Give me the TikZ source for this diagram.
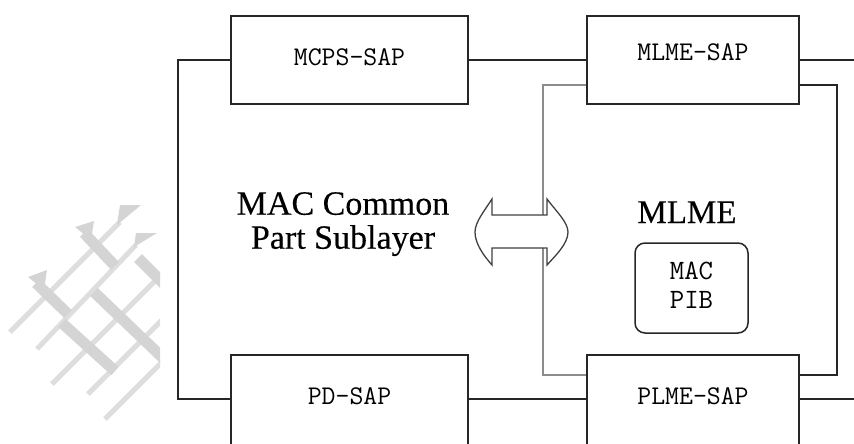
\documentclass[tikz,border=0pt]{standalone}
\usepackage{fontspec}
\setmainfont{Liberation Serif}
\newfontfamily\heavyserif{Liberation Serif}[FakeBold=0.25]
\begin{document}
\begin{tikzpicture}[x=1pt,y=-1pt,
  sap/.style={draw=black!85, line width=1.5pt, inner sep=0pt, minimum height=88pt},
  saptext/.style={font=\ttfamily\fontsize{27}{27}\selectfont},
  widebox/.style={sap, minimum width=237pt},
  narrowbox/.style={sap, minimum width=212pt},
  link/.style={draw=black!85, line width=1.5pt},
  glink/.style={draw=black!45, line width=1.2pt},
  bigtext/.style={font=\heavyserif\fontsize{34}{34}\selectfont, inner sep=0pt, align=center},
  wmthin/.style={draw=black!13, line width=5pt},
  wmthick/.style={draw=black!17, line width=11pt},
  wmflag/.style={fill=black!17, draw=none}]
\useasboundingbox (0,0) rectangle (854,444);

% faint lattice emblem on the left
\begin{scope}
  \clip (0,190) rectangle (160,444);
  \draw[wmthin] (10,332) -- (120,222);
  \draw[wmthin] (37,349) -- (136,245);
  \draw[wmthin] (52,384) -- (165,271);
  \draw[wmthin] (88,394) -- (165,317);
  \draw[wmthin] (105,419) -- (165,359);
  \draw[wmthick] (36,283) -- (68,314);
  \draw[wmthick] (84,233) -- (115,266);
  \draw[wmthick] (138,258) -- (165,285);
  \draw[wmthick] (62,323) -- (115,371);
  \draw[wmthick] (94,292) -- (165,360);
  \fill[wmflag] (117,225) -- (120,205) -- (141,205) -- cycle;
  \fill[wmflag] (134,247) -- (136,233) -- (157,233) -- cycle;
  \fill[wmflag] (28,277) -- (47,270) -- (44,290) -- cycle;
  \fill[wmflag] (75,227) -- (94,221) -- (91,240) -- cycle;
\end{scope}

% service access points
\node[widebox, label={[saptext, yshift=3pt, name=mcpsl]center:MCPS-SAP}] (mcps) at (349.5,60) {};
\node[narrowbox, label={[saptext, yshift=8pt, name=mlmel]center:MLME-SAP}] (mlme) at (693,60) {};
\node[widebox, minimum height=92pt, label={[saptext, yshift=5pt, name=pdl]center:PD-SAP}] (pd) at (349.5,401) {};
\node[narrowbox, minimum height=92pt, label={[saptext, yshift=5pt, name=plmel]center:PLME-SAP}] (plme) at (693,401) {};

% connection points
\coordinate (ol) at (178,60);
\coordinate (e1) at (858,60);
\coordinate (e2) at (858,399);
\coordinate (g1) at (543,85);
\coordinate (g2) at (543,375);
\coordinate (r1) at (837,85);
\coordinate (r2) at (837,375);

% MAC common part sublayer loop
\draw[link] (mcps.west) -- (mcps.west -| ol) |- ([yshift=2pt]pd.west);
\draw[link] (mcps.east) -- (mlme.west);
\draw[link] ([yshift=2pt]pd.east) -- ([yshift=2pt]plme.west);
\draw[link] (mlme.east) -- (e1);
\draw[link] ([yshift=2pt]plme.east) -- (e2);

% MLME loop
\draw[glink] ([yshift=-25pt]mlme.west) -- (g1) -- (g2) -- ([yshift=26pt]plme.west);
\draw[link] ([yshift=-25pt]mlme.east) -- (r1) -- (r2) -- ([yshift=26pt]plme.east);

% labels
\node[bigtext, anchor=north] (mcpstitle) at (343,192) {MAC Common\\Part Sublayer};
\node[bigtext, font=\heavyserif\fontsize{33}{33}\selectfont, anchor=base] (mlmetitle) at (687,223) {MLME};

% PIB box
\node[draw=black!85, line width=1.5pt, rounded corners=10pt, minimum width=113pt, minimum height=90pt, inner sep=0pt,
      label={[font=\ttfamily\fontsize{28}{29}\selectfont, align=center, yshift=3pt, name=pibl]center:MAC\\PIB}] (pib) at (691.5,288) {};

% double-headed arrow
\draw[draw=black!75, line width=1.3pt, fill=white]
  (492,215) -- (492,199) .. controls (485,210) and (475,222) .. (475,232)
  .. controls (475,244) and (484,256) .. (492,265) -- (492,248) -- (547,248) -- (547,265)
  .. controls (555,256) and (568,244) .. (568,232)
  .. controls (568,222) and (555,210) .. (547,199) -- (547,215) -- cycle;
\end{tikzpicture}
\end{document}
